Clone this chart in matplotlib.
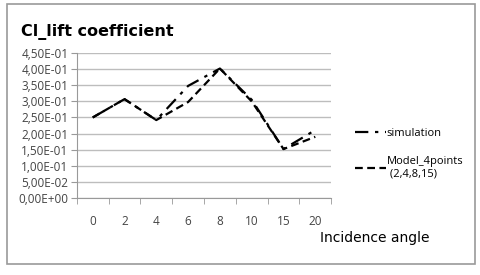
import matplotlib
matplotlib.use("Agg")
import matplotlib.pyplot as plt
from matplotlib.patches import Rectangle
from matplotlib.ticker import FuncFormatter, MultipleLocator, FixedLocator

angles = ['0', '2', '4', '6', '8', '10', '15', '20']
simulation = [0.25, 0.307, 0.242, 0.348, 0.402, 0.305, 0.152, 0.211]
model_4points = [0.25, 0.307, 0.242, 0.298, 0.402, 0.300, 0.152, 0.190]

fig = plt.figure(figsize=(4.8, 2.75), dpi=100)
fig.patches.append(Rectangle((0.014, 0.04), 0.975, 0.945, transform=fig.transFigure,
                             fill=False, edgecolor='#9a9a9a', linewidth=1.2))

ax = fig.add_axes([0.160, 0.28, 0.530, 0.527])
x = range(len(angles))
ax.plot(x, simulation, color='black', linewidth=1.6, dashes=(6, 3, 1.5, 3),
        label='simulation')
ax.plot(x, model_4points, color='black', linewidth=1.6, dashes=(3.5, 2),
        label='Model_4points\n (2,4,8,15)')

ax.set_xlim(-0.5, len(angles) - 0.5)
ax.set_ylim(0, 0.45)
ax.yaxis.set_major_locator(MultipleLocator(0.05))
ax.yaxis.set_major_formatter(FuncFormatter(lambda v, p: f"{v:.2E}".replace('.', ',')))
ax.set_xticks(list(x))
ax.set_xticklabels(angles)
ax.xaxis.set_minor_locator(FixedLocator([i + 0.5 for i in range(-1, len(angles))]))
ax.tick_params(axis='x', which='major', length=0, pad=12, labelsize=8.5, colors='#444444')
ax.tick_params(axis='x', which='minor', length=4, color='#999999', direction='out')
ax.tick_params(axis='y', length=4, color='#999999', labelsize=8.5, labelcolor='#444444', pad=2)
for lab in ax.get_xticklabels() + ax.get_yticklabels():
    lab.set_family('Open Sans')

ax.grid(axis='y', color='#bdbdbd', linewidth=1)
ax.set_axisbelow(True)
for s in ['top', 'right']:
    ax.spines[s].set_visible(False)
ax.spines['left'].set_color('#999999')
ax.spines['bottom'].set_color('#999999')

fig.text(0.044, 0.885, 'Cl_lift coefficient', fontsize=11.5, fontweight='bold',
         family='DejaVu Sans', va='center')
fig.text(0.78, 0.135, 'Incidence angle', fontsize=10, family='DejaVu Sans',
         ha='center', va='center')

fig.legend(loc='upper left', bbox_to_anchor=(0.718, 0.57), frameon=False,
           handlelength=2.8, handletextpad=0.1, labelspacing=1.5,
           prop={'family': 'Open Sans', 'size': 8})

plt.savefig('out.png', dpi=100)
